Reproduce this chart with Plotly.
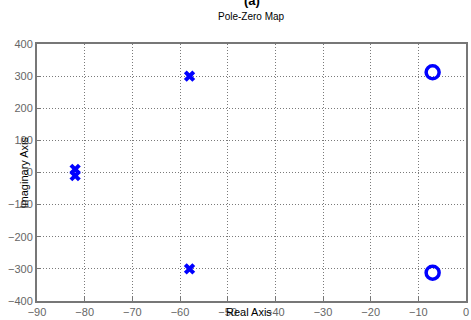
import plotly.graph_objects as go

# Pole and zero locations (real, imaginary)
pole_re = [-82, -82, -58, -58]
pole_im = [10, -10, 300, -300]
zero_re = [-7, -7]
zero_im = [312, -312]

x_ticks = [-90, -80, -70, -60, -50, -40, -30, -20, -10, 0]
y_ticks = [-400, -300, -200, -100, 0, 100, 200, 300, 400]

fig = go.Figure()
fig.add_trace(go.Scatter(
    x=pole_re, y=pole_im, mode="markers",
    marker=dict(symbol="x", size=10, color="#0000ff", line=dict(width=0)),
    showlegend=False))
fig.add_trace(go.Scatter(
    x=zero_re, y=zero_im, mode="markers",
    marker=dict(symbol="circle-open", size=13, color="#0000ff", line=dict(width=3.5)),
    showlegend=False))

axis_common = dict(
    showgrid=True, gridcolor="#7a7a7a", griddash="1px,2px", gridwidth=1,
    zeroline=False, showline=True, linecolor="#777777", linewidth=2,
    mirror=True, ticks="inside", ticklen=4, tickcolor="#777777",
    automargin=False,
    tickfont=dict(family="Liberation Sans, Arial", size=11, color="#666666"),
)

fig.update_layout(
    width=471, height=320,
    margin=dict(l=37, r=5, t=44, b=19, autoexpand=False),
    plot_bgcolor="white", paper_bgcolor="white",
    xaxis=dict(range=[-90, 0], tickvals=x_ticks, **axis_common),
    yaxis=dict(range=[-400, 400], tickvals=y_ticks, **axis_common),
    annotations=[
        dict(text="Pole-Zero Map", xref="paper", yref="paper", x=0.5, y=1,
             yshift=35, showarrow=False,
             font=dict(family="Liberation Sans, Arial", size=10, color="#000000")),
        dict(text="<b>(a)</b>", xref="paper", yref="paper", x=0.5, y=1,
             yshift=53, showarrow=False,
             font=dict(family="Liberation Sans, Arial", size=13, color="#000000")),
        dict(text="Real Axis", xref="paper", yref="paper", x=0.495, y=0,
             yshift=-19, showarrow=False,
             font=dict(family="Liberation Sans, Arial", size=11, color="#000000")),
        dict(text="Imaginary Axis", xref="paper", yref="paper", x=0, y=0.5,
             xshift=-22, textangle=-90, showarrow=False,
             font=dict(family="Liberation Sans, Arial", size=11, color="#000000")),
    ],
)

fig.write_html("out.html")
